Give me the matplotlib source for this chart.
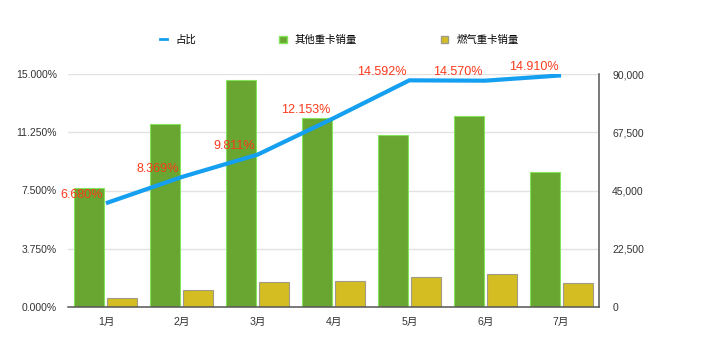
import matplotlib
matplotlib.use("Agg")
import matplotlib.pyplot as plt
from matplotlib.lines import Line2D
from matplotlib.patches import Patch
from matplotlib.ticker import FuncFormatter
import numpy as np

plt.rcParams['font.family'] = ['Liberation Sans', 'Noto Sans CJK SC', 'DejaVu Sans']

months = ['1月', '2月', '3月', '4月', '5月', '6月', '7月']
other_sales = [46000, 70700, 87700, 73000, 66400, 73800, 52100]
gas_sales = [3300, 6500, 9500, 10100, 11400, 12600, 9100]
share = [6.680, 8.369, 9.811, 12.153, 14.592, 14.570, 14.910]
share_labels = ['6.680%', '8.369%', '9.811%', '12.153%', '14.592%', '14.570%', '14.910%']
left_ticks = [0, 3.75, 7.5, 11.25, 15]
right_ticks = [0, 22500, 45000, 67500, 90000]

fig = plt.figure(figsize=(7.2, 3.46), dpi=100)
ax = fig.add_axes([68/720, 1-307/346, (599-68)/720, (307-74)/346])
x = np.arange(len(months))
w = 0.395
off = 0.217

green = '#68a531'
gold = '#d3bd22'
ax.bar(x - off, other_sales, width=w, color=green, edgecolor='#86e35c', linewidth=0.8, zorder=2)
ax.bar(x + off, gas_sales, width=w, color=gold, edgecolor='#a09a88', linewidth=0.8, zorder=2)
ax.set_ylim(0, 90000)
ax.set_xlim(-0.5, len(months) - 0.5)
ax.grid(axis='y', color='#e2e2e2', linewidth=1, zorder=0)
ax.set_axisbelow(True)
ax.set_xticks(x)
ax.set_xticklabels(months)
for s in ['left', 'top']:
    ax.spines[s].set_visible(False)
for s in ['bottom', 'right']:
    ax.spines[s].set_color('#555555')
    ax.spines[s].set_linewidth(1.1)

ax2 = ax.twinx()
ax2.plot(x, share, color='#159ff0', linewidth=3, solid_capstyle='butt', zorder=3)
ax2.set_ylim(0, 15)
for s in ax2.spines.values():
    s.set_visible(False)

# right axis: sales; left axis: share
ax.yaxis.tick_right()
ax.yaxis.set_label_position('right')
ax.set_yticks(right_ticks)
ax.yaxis.set_major_formatter(FuncFormatter(lambda v, p: f'{int(v):,}'))
ax.tick_params(axis='x', length=0, pad=7, labelsize=7.6, colors='#333333')
ax.tick_params(axis='y', which='both', left=False, labelleft=False, right=False,
               labelright=True, length=0, pad=9.5, labelsize=7.5, colors='#333333')

ax2.yaxis.tick_left()
ax2.set_yticks(left_ticks)
ax2.yaxis.set_major_formatter(FuncFormatter(lambda v, p: f'{v:.3f}%'))
ax2.tick_params(axis='y', which='both', right=False, labelright=False, left=False,
                labelleft=True, length=0, pad=8, labelsize=7.5, colors='#333333')

for xi, v, lab in zip(x, share, share_labels):
    ax2.annotate(lab, (xi, v), xytext=(-2, 6), textcoords='offset points',
                 ha='right', va='center', color='#fa3a1c', fontsize=9, clip_on=False)

handles = [Line2D([0], [0], color='#159ff0', linewidth=2),
           Patch(facecolor=green, edgecolor='#86e35c'),
           Patch(facecolor=gold, edgecolor='#a09a88')]
labels = ['占比', '其他重卡销量', '燃气重卡销量']
fig.legend(handles, labels, loc='center', bbox_to_anchor=(339/720, 1-40/346), ncol=3,
           frameon=False, fontsize=7.5, handlelength=0.7, handleheight=0.7,
           handletextpad=0.8, columnspacing=8)

fig.savefig('out.png', dpi=100)
